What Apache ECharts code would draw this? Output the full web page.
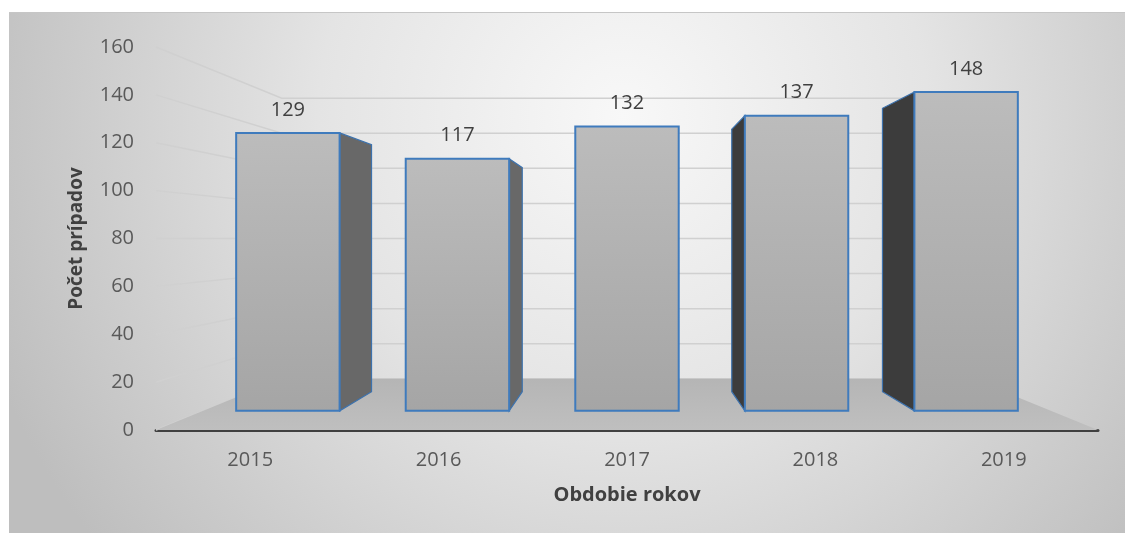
<!DOCTYPE html>
<html><head><meta charset="utf-8">
<script src="https://cdn.jsdelivr.net/npm/echarts@6/dist/echarts.min.js"></script>
<style>html,body{margin:0;padding:0;background:#fff}#c{width:1125px;height:533px}</style>
</head><body><div id="c"></div>
<script>
const years = ['2015', '2016', '2017', '2018', '2019'];
const cases = [129, 117, 132, 137, 148];
const yTicks = [0, 20, 40, 60, 80, 100, 120, 140, 160];

const FONT = '"Open Sans", sans-serif';
const S_FRONT = 0.9, S_BACK = 0.8, S_WALL = 0.733;

function vanish(api) { return api.coord([2, 80]); }
function proj(p, V, s) { return [V[0] + s * (p[0] - V[0]), V[1] + s * (p[1] - V[1])]; }

function renderScene(params, api) {
  const cs = params.coordSys;
  const V = vanish(api);
  const xl = cs.x, xr = cs.x + cs.width;
  const children = [];
  yTicks.forEach(function (t) {
    const y = api.coord([0, t])[1];
    const a = [xl, y], b = [xr, y];
    children.push({
      type: 'polyline',
      shape: { points: [a, proj(a, V, S_WALL), proj(b, V, S_WALL)] },
      style: { stroke: '#d0d0d0', lineWidth: 1.5, fill: null }
    });
  });
  const y0 = api.coord([0, 0])[1];
  const fl = [xl, y0], fr = [xr, y0];
  children.push({
    type: 'polygon',
    shape: { points: [fl, fr, proj(fr, V, S_WALL), proj(fl, V, S_WALL)] },
    style: {
      fill: { type: 'linear', x: 0, y: 0, x2: 0, y2: 1,
        colorStops: [{ offset: 0, color: '#b5b5b5' }, { offset: 1, color: '#bfbfbf' }] }
    }
  });
  return { type: 'group', children: children };
}

function renderBar(params, api) {
  const V = vanish(api);
  const i = api.value(0), v = api.value(1);
  const top = api.coord([i, v]), bot = api.coord([i, 0]);
  const hw = api.size([1, 0])[0] * 0.305;
  const pts = [[top[0] - hw, top[1]], [top[0] + hw, top[1]], [top[0] + hw, bot[1]], [top[0] - hw, bot[1]]];
  const F = pts.map(function (p) { return proj(p, V, S_FRONT); });
  const B = pts.map(function (p) { return proj(p, V, S_BACK); });
  const children = [];
  if (top[0] < V[0] - 1) {
    children.push({
      type: 'polygon', shape: { points: [F[1], B[1], B[2], F[2]] },
      style: { fill: '#686868', stroke: '#3d72ad', lineWidth: 1.2 }
    });
  } else if (top[0] > V[0] + 1) {
    children.push({
      type: 'polygon', shape: { points: [F[0], B[0], B[3], F[3]] },
      style: { fill: '#3c3c3c', stroke: '#3d72ad', lineWidth: 1.2 }
    });
  }
  children.push({
    type: 'polygon', shape: { points: F },
    style: {
      fill: { type: 'linear', x: 0, y: 0, x2: 0, y2: 1,
        colorStops: [{ offset: 0, color: '#bcbcbc' }, { offset: 1, color: '#a5a5a5' }] },
      stroke: '#3f7bbd', lineWidth: 2
    }
  });
  children.push({
    type: 'text',
    style: {
      x: (F[0][0] + F[1][0]) / 2, y: F[0][1] - 23, text: String(v),
      fill: '#404040', font: '20px ' + FONT, textAlign: 'center', textVerticalAlign: 'middle'
    }
  });
  return { type: 'group', children: children };
}

const chart = echarts.init(document.getElementById('c'), null, { renderer: 'canvas' });
chart.setOption({
  animation: false,
  graphic: [
    { type: 'rect', z: -10, silent: true, shape: { x: 9, y: 12, width: 1116, height: 521 },
      style: { fill: { type: 'radial', x: 0.55, y: 0.2, r: 1.3,
        colorStops: [{ offset: 0, color: '#f8f8f8' }, { offset: 0.45, color: '#e4e4e4' }, { offset: 1, color: '#bebebe' }] } } },
    { type: 'line', z: -9, silent: true, shape: { x1: 9, y1: 12.5, x2: 1125, y2: 12.5 },
      style: { stroke: '#c6c6c6', lineWidth: 1 } }
  ],
  grid: { left: 156, right: 27, top: 47, bottom: 103 },
  xAxis: {
    type: 'category', data: years,
    axisLine: { lineStyle: { color: '#404040', width: 3 } },
    axisTick: { show: false },
    axisLabel: { color: '#595959', fontSize: 20, fontFamily: FONT, margin: 20 },
    name: 'Obdobie rokov', nameLocation: 'middle', nameGap: 55,
    nameTextStyle: { color: '#404040', fontSize: 20, fontWeight: 'bold', fontFamily: FONT }
  },
  yAxis: {
    type: 'value', min: 0, max: 160, interval: 20,
    axisLine: { show: false }, axisTick: { show: false }, splitLine: { show: false },
    axisLabel: { color: '#595959', fontSize: 20, fontFamily: FONT, margin: 22 },
    name: 'Počet prípadov', nameLocation: 'middle', nameGap: 70,
    nameTextStyle: { color: '#404040', fontSize: 19, fontWeight: 'bold', fontFamily: FONT }
  },
  series: [
    { type: 'custom', z: 1, silent: true, data: [[0, 0]], renderItem: renderScene, clip: false },
    { type: 'custom', z: 3, silent: true, data: cases.map(function (v, i) { return [i, v]; }), renderItem: renderBar, clip: false }
  ]
});
</script>
</body></html>
